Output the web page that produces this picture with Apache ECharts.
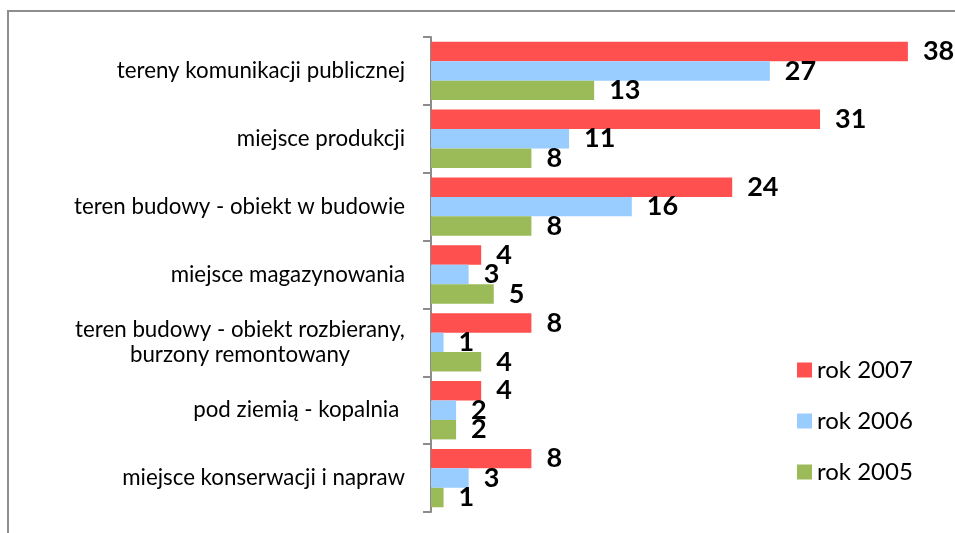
<!DOCTYPE html>
<html lang="pl">
<head>
<meta charset="UTF-8">
<title>Wypadki wg miejsca</title>
<script src="https://cdn.jsdelivr.net/npm/echarts@6/dist/echarts.min.js"></script>
<style>
  html, body { margin: 0; padding: 0; background: #fff; }
  #main { width: 955px; height: 533px; }
</style>
</head>
<body>
<div id="main"></div>
<script>
// dane
const categories = [
  'tereny komunikacji publicznej',
  'miejsce produkcji',
  'teren budowy - obiekt w budowie',
  'miejsce magazynowania',
  'teren budowy - obiekt rozbierany,\nburzony remontowany',
  'pod ziemią - kopalnia ',
  'miejsce konserwacji i napraw'
];
const seriesNames = ['rok 2007', 'rok 2006', 'rok 2005'];
const y2007 = [38, 31, 24, 4, 8, 4, 8];
const y2006 = [27, 11, 16, 3, 1, 2, 3];
const y2005 = [13, 8, 8, 5, 4, 2, 1];
const colors = ['#FF5050', '#99CCFF', '#9BBB59'];

const FONT = 'Lato';

let chart = echarts.init(document.getElementById('main'), null, { renderer: 'canvas' });

function barSeries(name, data, color) {
  return {
    name: name,
    type: 'bar',
    data: data,
    barGap: '0%',
    barCategoryGap: '14%',
    itemStyle: { color: color },
    label: {
      show: true,
      position: 'right',
      distance: 15,
      color: '#000',
      fontFamily: FONT,
      fontWeight: 'bold',
      fontSize: 27
    }
  };
}

let option = {
  animation: false,
  backgroundColor: '#fff',
  textStyle: { fontFamily: FONT },
  graphic: [{
    type: 'rect',
    shape: { x: 8, y: 11, width: 1200, height: 800 },
    style: { fill: 'none', stroke: '#8e8e8e', lineWidth: 2 },
    silent: true
  }],
  legend: {
    orient: 'vertical',
    left: 792,
    top: 353,
    itemWidth: 15,
    itemHeight: 15,
    itemGap: 27,
    icon: 'rect',
    textStyle: { fontFamily: FONT, fontSize: 24, lineHeight: 24, color: '#000' },
    data: seriesNames
  },
  grid: { left: 431, right: 22, top: 37, bottom: 21, containLabel: false },
  xAxis: {
    type: 'value',
    min: 0,
    max: 40,
    show: false
  },
  yAxis: {
    type: 'category',
    inverse: true,
    data: categories,
    axisLine: { show: true, lineStyle: { color: '#8c8c8c', width: 2 } },
    axisTick: { show: true, length: 8, lineStyle: { color: '#8c8c8c', width: 2 } },
    axisLabel: {
      margin: 26,
      color: '#000',
      fontFamily: FONT,
      fontSize: 22.3,
      lineHeight: 25,
      formatter: function (v) {
        if (v.indexOf('\n') < 0) return v;
        return v.split('\n').map(function (l) { return '{c|' + l + '}'; }).join('\n');
      },
      rich: {
        c: { width: 330, align: 'center', fontFamily: FONT, fontSize: 22.3, lineHeight: 25, color: '#000' }
      }
    }
  },
  series: [
    barSeries(seriesNames[0], y2007, colors[0]),
    barSeries(seriesNames[1], y2006, colors[1]),
    barSeries(seriesNames[2], y2005, colors[2])
  ]
};

chart.setOption(option);
</script>
</body>
</html>
